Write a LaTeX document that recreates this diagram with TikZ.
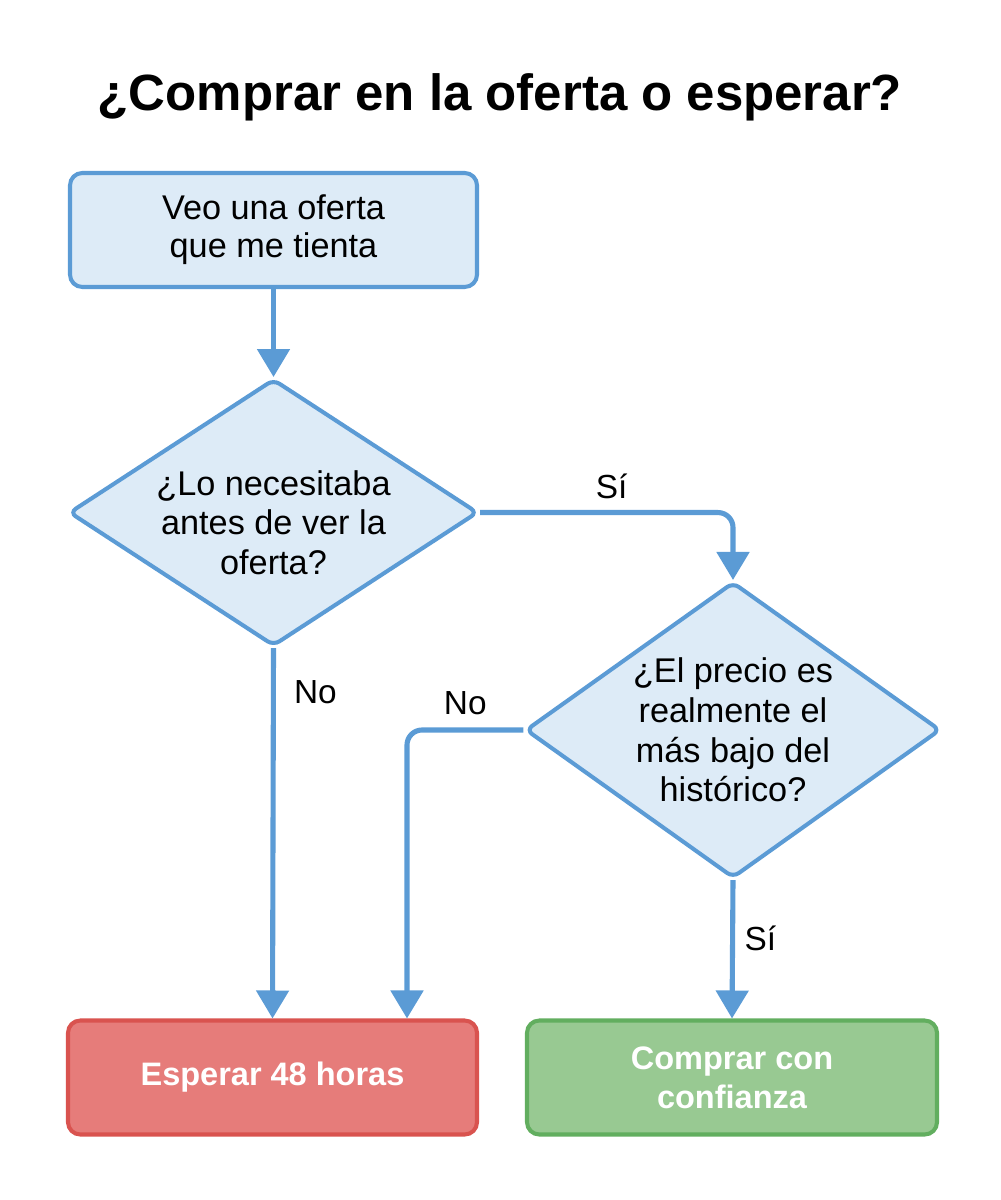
\documentclass[tikz,border=0pt]{standalone}
\usepackage{fontspec}
\setmainfont{Liberation Sans}
\usetikzlibrary{arrows.meta,positioning,shapes.geometric}
\definecolor{flow}{HTML}{5B9BD5}
\definecolor{flowbg}{HTML}{DDEBF7}
\definecolor{waitfill}{HTML}{E67C7A}
\definecolor{waitline}{HTML}{D9534F}
\definecolor{buyfill}{HTML}{98C992}
\definecolor{buyline}{HTML}{62AE5F}

\begin{document}
\begin{tikzpicture}[
  stagebox/.style={draw=flow, fill=flowbg, line width=2.3pt, rounded corners=7pt,
                minimum width=8.14cm, minimum height=2.28cm, align=center,
                font=\fontsize{19.5}{21.5}\selectfont},
  ask/.style={diamond, draw=flow, fill=flowbg, line width=2.3pt, rounded corners=4pt,
              inner sep=0pt},
  asktxt/.style={align=center, font=\fontsize{19.5}{22.5}\selectfont},
  endbox/.style={stagebox, text=white, font=\fontsize{18.5}{22}\selectfont\bfseries},
  lbl/.style={font=\fontsize{19}{22}\selectfont},
  arr/.style={-{Triangle[length=0.56cm, width=0.64cm]}, draw=flow, line width=2.9pt,
              rounded corners=0.3cm}]

\useasboundingbox (0,0) rectangle (20,-24);

\node[font=\fontsize{29}{35}\selectfont\bfseries] (title) at (10,-1.95) {¿Comprar en la oferta o esperar?};

\node[stagebox] (see) at (5.47,-4.6) {Veo una oferta\\que me tienta};
\node[ask, minimum width=8.18cm, minimum height=5.34cm, below=1.76cm of see] (need) {};
\node[asktxt, yshift=-0.2cm] (needtxt) at (need) {¿Lo necesitaba\\antes de ver la\\oferta?};
\node[ask, minimum width=8.3cm, minimum height=5.92cm] (low) at (14.66,-14.6) {};
\node[asktxt] (lowtxt) at (low) {¿El precio es\\realmente el\\más bajo del\\histórico?};
\node[endbox, draw=waitline, fill=waitfill, minimum width=8.18cm] (wait) at (5.45,-21.55)
  {Esperar 48 horas};
\node[endbox, draw=buyline, fill=buyfill, minimum width=8.2cm] (buy) at (14.64,-21.55)
  {Comprar con\\confianza};

\draw[arr] (see) -- (need);
\draw[arr] (need.east) -| node[lbl, pos=0.26, above=3pt] {Sí} (low.north);
\draw[arr] (need.south) -- node[lbl, pos=0.12, right=7pt] {No} (wait.north);
\draw[arr] (low.west) -| node[lbl, pos=0.25, above=4pt] {No} ([xshift=2.69cm]wait.north);
\draw[arr] (low.south) -- node[lbl, pos=0.42, right=2pt] {Sí} (buy.north);
\end{tikzpicture}
\end{document}
